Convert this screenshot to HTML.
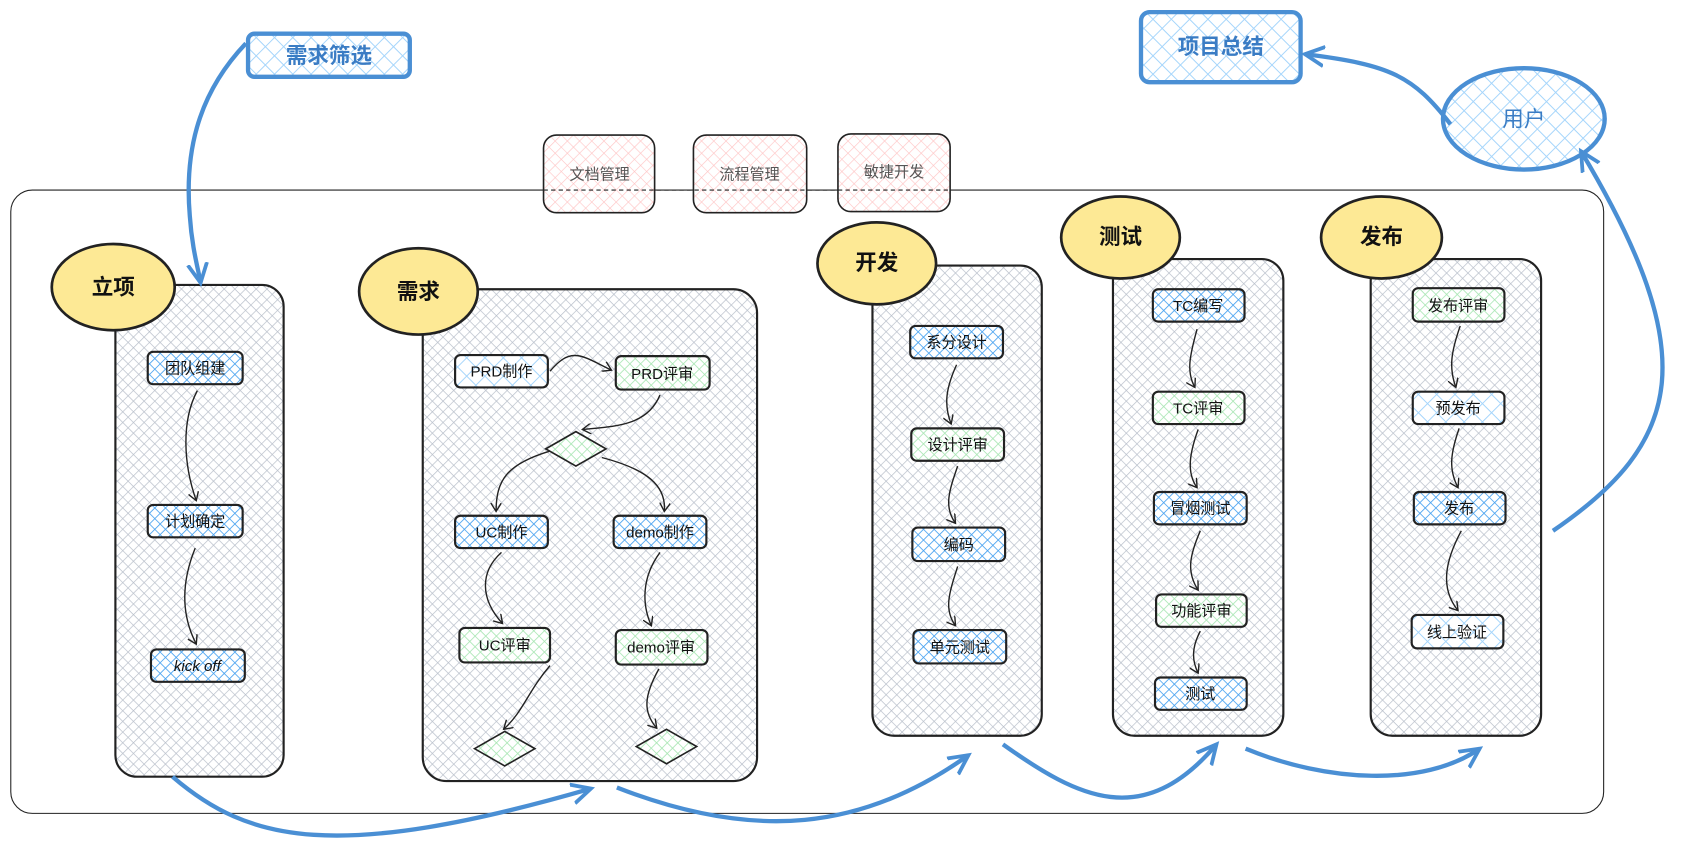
<!DOCTYPE html>
<html><head><meta charset="utf-8"><style>
html,body{margin:0;padding:0;background:#fff;}
svg{display:block;}
text{font-family:"Liberation Sans","Noto Sans CJK SC",sans-serif;}
</style></head><body>
<svg width="1691" height="860" viewBox="0 0 1568 797" xmlns="http://www.w3.org/2000/svg">
<defs>
<pattern id="hg" width="7" height="7" patternUnits="userSpaceOnUse" patternTransform="rotate(45)">
<rect width="7" height="7" fill="#fff"/><path d="M0 0V7M0 0H7" stroke="#b9c0cb" stroke-width="1.3"/></pattern>
<pattern id="hb" width="7" height="7" patternUnits="userSpaceOnUse" patternTransform="rotate(45)">
<rect width="7" height="7" fill="#fff"/><path d="M0 0V7M0 0H7" stroke="#4aa3f0" stroke-width="1.6"/></pattern>
<pattern id="hlb" width="12" height="12" patternUnits="userSpaceOnUse" patternTransform="rotate(45)">
<rect width="12" height="12" fill="#fff"/><path d="M0 0V12M0 0H12" stroke="#a5d5fb" stroke-width="1.8"/></pattern>
<pattern id="hgr" width="7" height="7" patternUnits="userSpaceOnUse" patternTransform="rotate(45)">
<rect width="7" height="7" fill="#fff"/><path d="M0 0V7M0 0H7" stroke="#a9e6b4" stroke-width="1.5"/></pattern>
<pattern id="hp" width="8" height="8" patternUnits="userSpaceOnUse" patternTransform="rotate(45)">
<rect width="8" height="8" fill="#fff"/><path d="M0 0V8M0 0H8" stroke="#ffc4c4" stroke-width="1.2"/></pattern>
<marker id="ab" markerWidth="10" markerHeight="10" refX="8" refY="5" orient="auto" markerUnits="userSpaceOnUse" viewBox="0 0 10 10"><path d="M0 0L8 5L0 10" fill="none" stroke="#222" stroke-width="1.3"/></marker>
<marker id="abl" markerWidth="22" markerHeight="22" refX="18" refY="11" orient="auto" markerUnits="userSpaceOnUse" viewBox="0 0 22 22"><path d="M0 2L18 11L0 20" fill="none" stroke="#4a8fd4" stroke-width="3.5"/></marker>
</defs>

<rect x="10" y="176" width="1477" height="578" rx="20" fill="none" stroke="#222" stroke-width="1"/>

<g stroke="#222" stroke-width="1.5">
<rect x="504" y="125" width="103" height="72" rx="12" fill="url(#hp)"/>
<rect x="643" y="125" width="105" height="72" rx="12" fill="url(#hp)"/>
<rect x="777" y="124" width="104" height="72" rx="12" fill="url(#hp)"/>
</g>
<line x1="504" y1="176" x2="881" y2="176" stroke="#222" stroke-width="1" stroke-dasharray="4 3"/>
<g font-size="14" fill="#555" text-anchor="middle">
<text x="556" y="166">文档管理</text><text x="695" y="166">流程管理</text><text x="829" y="164">敏捷开发</text>
</g>

<rect x="230" y="31" width="150" height="40" rx="6" fill="url(#hlb)" stroke="#4a8fd4" stroke-width="4"/>
<text x="305" y="58" font-size="20" fill="#3a7cc4" text-anchor="middle" font-weight="bold">需求筛选</text>
<rect x="1058" y="11" width="148" height="65" rx="8" fill="url(#hlb)" stroke="#4a8fd4" stroke-width="4"/>
<text x="1132" y="50" font-size="20" fill="#3a7cc4" text-anchor="middle" font-weight="bold">项目总结</text>
<ellipse cx="1413" cy="110" rx="75" ry="47" fill="url(#hlb)" stroke="#4a8fd4" stroke-width="4"/>
<text x="1413" y="117" font-size="20" fill="#3a7cc4" text-anchor="middle">用户</text>

<g stroke="#222" stroke-width="2" fill="url(#hg)">
<rect x="107" y="264" width="156" height="456" rx="20"/>
<rect x="392" y="268" width="310" height="456" rx="22"/>
<rect x="809" y="246" width="157" height="436" rx="20"/>
<rect x="1032" y="240" width="158" height="442" rx="20"/>
<rect x="1271" y="240" width="158" height="442" rx="20"/>
</g>
<g fill="#fde995" stroke="#222" stroke-width="2.5">
<ellipse cx="105" cy="266" rx="57" ry="40"/>
<ellipse cx="388" cy="270" rx="55" ry="40"/>
<ellipse cx="813" cy="244" rx="55" ry="38"/>
<ellipse cx="1039" cy="220" rx="55" ry="38"/>
<ellipse cx="1281" cy="220" rx="56" ry="38"/>
</g>
<g font-size="20" font-weight="bold" fill="#111" text-anchor="middle">
<text x="105" y="273">立项</text><text x="388" y="277">需求</text><text x="813" y="250">开发</text><text x="1039" y="226">测试</text><text x="1281" y="226">发布</text>
</g>

<g stroke="#222" stroke-width="2">
<rect x="137" y="326" width="88" height="30" rx="5" fill="url(#hb)"/>
<rect x="137" y="468" width="88" height="30" rx="5" fill="url(#hb)"/>
<rect x="140" y="602" width="87" height="30" rx="5" fill="url(#hb)"/>
<rect x="422" y="329" width="86" height="30" rx="5" fill="url(#hlb)"/>
<rect x="571" y="330" width="87" height="31" rx="5" fill="url(#hgr)"/>
<rect x="422" y="478" width="86" height="30" rx="5" fill="url(#hb)"/>
<rect x="569" y="478" width="86" height="30" rx="5" fill="url(#hb)"/>
<rect x="426" y="582" width="84" height="32" rx="5" fill="url(#hgr)"/>
<rect x="571" y="584" width="85" height="32" rx="5" fill="url(#hgr)"/>
<rect x="844" y="302" width="86" height="30" rx="5" fill="url(#hb)"/>
<rect x="845" y="397" width="86" height="30" rx="5" fill="url(#hgr)"/>
<rect x="846" y="489" width="86" height="31" rx="5" fill="url(#hb)"/>
<rect x="847" y="584" width="86" height="31" rx="5" fill="url(#hb)"/>
<rect x="1069" y="268" width="85" height="30" rx="5" fill="url(#hb)"/>
<rect x="1069" y="363" width="85" height="30" rx="5" fill="url(#hgr)"/>
<rect x="1070" y="456" width="86" height="30" rx="5" fill="url(#hb)"/>
<rect x="1072" y="551" width="84" height="30" rx="5" fill="url(#hgr)"/>
<rect x="1071" y="628" width="85" height="30" rx="5" fill="url(#hb)"/>
<rect x="1310" y="267" width="85" height="31" rx="5" fill="url(#hgr)"/>
<rect x="1310" y="363" width="85" height="30" rx="5" fill="url(#hlb)"/>
<rect x="1311" y="456" width="85" height="30" rx="5" fill="url(#hb)"/>
<rect x="1309" y="570" width="85" height="31" rx="5" fill="url(#hlb)"/>
<path d="M506 416L534 400L562 416L534 432Z" fill="url(#hgr)" stroke-width="1.5"/>
<path d="M440 694L468 678L496 694L468 710Z" fill="url(#hgr)" stroke-width="1.5"/>
<path d="M590 692L618 676L646 692L618 708Z" fill="url(#hgr)" stroke-width="1.5"/>
</g>
<g font-size="14" fill="#111" text-anchor="middle">
<text x="181" y="346">团队组建</text><text x="181" y="488">计划确定</text><text x="183" y="622" font-style="italic">kick off</text>
<text x="465" y="349">PRD制作</text><text x="614" y="351">PRD评审</text>
<text x="465" y="498">UC制作</text><text x="612" y="498">demo制作</text>
<text x="468" y="603">UC评审</text><text x="613" y="605">demo评审</text>
<text x="887" y="322">系分设计</text><text x="888" y="417">设计评审</text><text x="889" y="510">编码</text><text x="890" y="605">单元测试</text>
<text x="1111" y="288">TC编写</text><text x="1111" y="383">TC评审</text><text x="1113" y="476">冒烟测试</text><text x="1114" y="571">功能评审</text><text x="1113" y="648">测试</text>
<text x="1352" y="288">发布评审</text><text x="1352" y="383">预发布</text><text x="1353" y="476">发布</text><text x="1351" y="591">线上验证</text>
</g>

<g fill="none" stroke="#222" stroke-width="1.3" marker-end="url(#ab)">
<path d="M183 362C168 390 170 430 182 464"/>
<path d="M181 508C168 540 168 570 182 597"/>
<path d="M510 344C530 320 540 330 567 343"/>
<path d="M612 366C600 395 570 395 540 398"/>
<path d="M510 418C470 430 460 445 460 474"/>
<path d="M558 424C600 435 618 450 616 474"/>
<path d="M465 512C445 530 445 555 466 578"/>
<path d="M612 512C595 535 595 560 604 580"/>
<path d="M510 617C490 640 485 660 467 676"/>
<path d="M611 620C597 645 596 660 609 675"/>
<path d="M887 338C877 360 875 375 882 393"/>
<path d="M888 432C880 455 875 470 886 485"/>
<path d="M888 525C880 550 875 565 886 580"/>
<path d="M1110 305C1103 330 1100 345 1108 359"/>
<path d="M1111 398C1103 420 1100 438 1110 452"/>
<path d="M1113 492C1103 515 1100 530 1111 547"/>
<path d="M1113 585C1105 600 1105 612 1111 624"/>
<path d="M1354 302C1346 325 1343 340 1350 359"/>
<path d="M1353 397C1345 420 1343 435 1352 452"/>
<path d="M1355 492C1340 520 1335 545 1352 566"/>
</g>

<g fill="none" stroke="#4a8fd4" stroke-width="4" marker-end="url(#abl)">
<path d="M228 40C190 80 170 130 176 200C178 230 184 250 186 262"/>
<path d="M160 720C230 780 310 800 548 731"/>
<path d="M572 730C700 780 800 770 898 700"/>
<path d="M930 690C1000 740 1060 770 1128 690"/>
<path d="M1155 694C1230 725 1320 730 1372 694"/>
<path d="M1440 492C1560 410 1580 330 1466 140"/>
<path d="M1345 115C1310 70 1290 60 1210 50"/>
</g>
</svg>
</body></html>
